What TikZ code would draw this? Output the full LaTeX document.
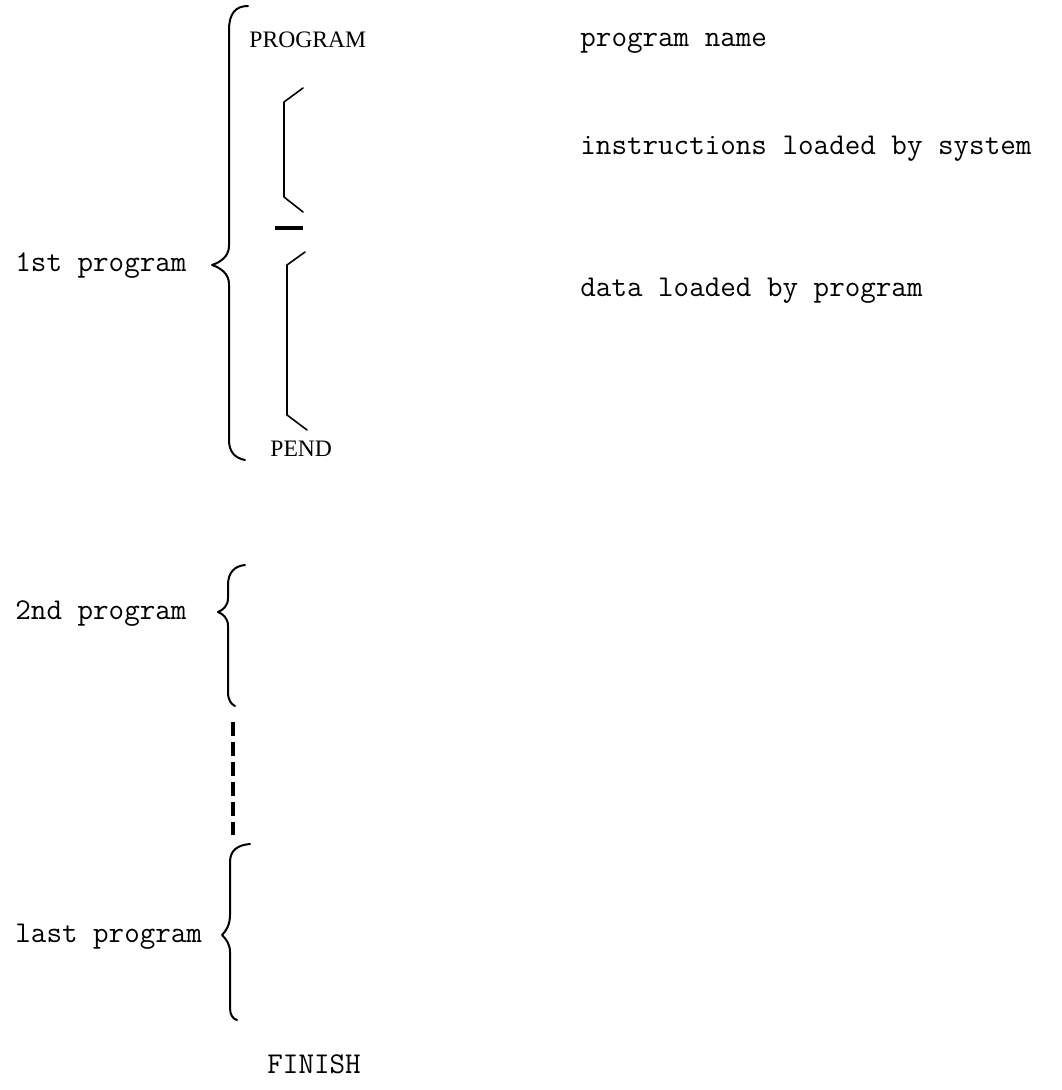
\documentclass[tikz,border=0pt]{standalone}
\usepackage{fontspec}
\setmainfont{Liberation Serif}
\begin{document}
\begin{tikzpicture}[x=0.5pt,y=-0.5pt,
  lbl/.style={font=\ttfamily\fontsize{15.1}{17}\selectfont, anchor=base west, inner sep=0pt},
  kw/.style={font=\rmfamily\fontsize{11.8}{13}\selectfont, anchor=base west, inner sep=0pt},
  brace/.style={line width=1pt, line cap=round, line join=round},
  bracket/.style={line width=0.8pt, line cap=round, line join=round},
  dots/.style={line width=2.2pt, dash pattern=on 7pt off 3pt}]
\useasboundingbox (0,0) rectangle (1061,1090);
\fill[white] (0,0) rectangle (1061,1090);

% labels
\node[lbl] (p1) at (15,272) {1st program};
\node[lbl] (p2) at (15,619) {2nd program};
\node[lbl] (p3) at (15,942) {last program};
\node[kw] (prog) at (249,48) {PROGRAM};
\node[kw] (pend) at (270,456) {PEND};
\node[lbl] (fin) at (267,1073) {FINISH};
\node[lbl] (n1) at (580,47) {program name};
\node[lbl] (n2) at (580,155) {instructions loaded by system};
\node[lbl] (n3) at (580,297) {data loaded by program};

% big brace 1
\draw[brace] (248,6) .. controls (236,6) and (229,13) .. (229,30) -- (229,246)
  .. controls (229,256) and (221,262) .. (212,265)
  .. controls (221,268) and (229,274) .. (229,284) -- (229,440)
  .. controls (229,452) and (235,458) .. (245,460);

% small bracket 1 (instructions)
\draw[bracket] (303,88) -- (284,102) -- (284,197) -- (303,212);
% separator dash
\draw[line width=1.6pt] (275,228) -- (303,228);
% small bracket 2 (data)
\draw[bracket] (305,252) -- (287,265) -- (287,415) -- (307,430);

% brace 2
\draw[brace] (245,565) .. controls (235,566) and (228,572) .. (228,585) -- (228,598)
  .. controls (228,606) and (223,610) .. (218,612)
  .. controls (223,614) and (228,618) .. (228,626) -- (228,692)
  .. controls (228,700) and (231,704) .. (235,706);

% dashed continuation
\draw[dots] (233,722) -- (233,835);

% brace 3
\draw[brace] (250,844) .. controls (238,845) and (230,850) .. (230,862) -- (230,915)
  .. controls (230,925) and (226,931) .. (222,935)
  .. controls (226,939) and (230,944) .. (230,952) -- (230,1008)
  .. controls (230,1015) and (233,1019) .. (237,1020);
\end{tikzpicture}
\end{document}
